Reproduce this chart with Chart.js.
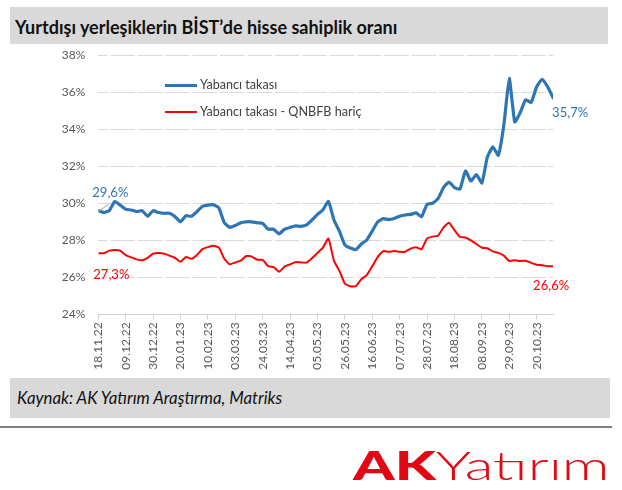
<!DOCTYPE html>
<html>
<head>
<meta charset="utf-8">
<script src="https://cdn.jsdelivr.net/npm/chart.js@4.4.1/dist/chart.umd.min.js"></script>
<style>
  html, body { margin:0; padding:0; background:#fff; width:622px; height:490px; overflow:hidden; font-family: Lato, "Open Sans", sans-serif; }
  .abs { position:absolute; }
  #titleBand { left:10px; top:7px; width:598px; height:37px; background:#d9d9d9; }
  #titleText { left:15px; top:16px; line-height:22px; font-size:18px; font-weight:bold; color:#111; white-space:nowrap; }
  #capBand { left:10px; top:378px; width:600px; height:40px; background:#d9d9d9; }
  #capText { left:17px; top:387px; line-height:22px; font-size:16.8px; font-style:italic; color:#111; white-space:nowrap; }
  #rule { left:0; top:426px; width:612px; height:2px; background:#7f7f7f; }
  #logo { left:353px; top:446px; font-size:39px; line-height:39px; color:#e30613; white-space:nowrap; transform-origin:left top; }
  #logo .ak { font-weight:900; }
  #logo .yat { font-weight:300; }
  #chart { left:0; top:0; }
  .legSw { position:absolute; width:32px; }
  .legTx { position:absolute; font-size:12.6px; line-height:16px; color:#404040; white-space:nowrap; }
</style>
</head>
<body>
<div id="titleBand" class="abs"></div>
<div id="titleText" class="abs">Yurtdışı yerleşiklerin BİST’de hisse sahiplik oranı</div>
<div id="capBand" class="abs"></div>
<div id="capText" class="abs">Kaynak: AK Yatırım Araştırma, Matriks</div>
<div id="rule" class="abs"></div>
<div id="logo" class="abs"><span class="ak">AK</span><span class="yat">Yatırım</span></div>
<canvas id="chart" class="abs" width="622" height="490"></canvas>
<div id="legend" class="abs" style="left:0;top:0;">
  <div class="legSw" style="left:165px;top:83.5px;height:3px;background:#2e75b6;"></div>
  <div class="legTx" style="left:200px;top:77px;">Yabancı takası</div>
  <div class="legSw" style="left:165px;top:111px;height:2px;background:#ff0000;"></div>
  <div class="legTx" style="left:200px;top:104px;">Yabancı takası - QNBFB hariç</div>
</div>
<script>
// ---- data ----
const tickLabels = ['18.11.22','09.12.22','30.12.22','20.01.23','10.02.23','03.03.23','24.03.23','14.04.23',
  '05.05.23','26.05.23','16.06.23','07.07.23','28.07.23','18.08.23','08.09.23','29.09.23','20.10.23'];
const pointsPerTick = 5; // samples between two dated ticks
const seriesNames = ['Yabancı takası', 'Yabancı takası - QNBFB hariç'];
const yabanciTakasi = [
  29.6, 29.5, 29.6, 30.1, 29.9, 29.68, 29.64, 29.55, 29.6, 29.3,
  29.6, 29.5, 29.46, 29.46, 29.28, 29.0, 29.33, 29.3, 29.55, 29.83,
  29.9, 29.92, 29.75, 28.95, 28.7, 28.8, 28.95, 29.0, 29.0, 28.95,
  28.92, 28.6, 28.6, 28.35, 28.6, 28.7, 28.78, 28.75, 28.83, 29.1,
  29.4, 29.65, 30.1, 29.1, 28.5, 27.75, 27.58, 27.5, 27.8, 28.02,
  28.5, 29.0, 29.17, 29.12, 29.18, 29.3, 29.37, 29.4, 29.48, 29.28,
  29.95, 30.0, 30.25, 30.85, 31.15, 30.85, 30.77, 31.75, 31.2, 31.55,
  31.1, 32.5, 33.05, 32.6, 34.2, 36.75, 34.4, 34.9, 35.6, 35.45,
  36.3, 36.7, 36.3, 35.7
];
const qnbfbHaric = [
  27.3, 27.3, 27.44, 27.47, 27.44, 27.2, 27.08, 26.97, 26.92, 27.05,
  27.28, 27.32, 27.28, 27.17, 27.05, 26.84, 27.1, 27.0, 27.21, 27.52,
  27.63, 27.7, 27.6, 27.0, 26.7, 26.8, 26.9, 27.15, 27.12, 26.95,
  26.94, 26.6, 26.55, 26.3, 26.58, 26.7, 26.82, 26.8, 26.8, 27.03,
  27.32, 27.6, 28.1, 26.9, 26.35, 25.65, 25.52, 25.52, 25.9, 26.12,
  26.6, 27.1, 27.42, 27.38, 27.42, 27.38, 27.38, 27.55, 27.63, 27.52,
  28.1, 28.2, 28.25, 28.7, 28.95, 28.55, 28.18, 28.15, 28.0, 27.8,
  27.6, 27.57, 27.4, 27.32, 27.17, 26.88, 26.92, 26.88, 26.9, 26.78,
  26.68, 26.65, 26.6, 26.6
];
const yMin = 24, yMax = 38, yStep = 2;

// ---- styling ----
const BLUE = '#2e75b6', RED = '#ff0000';
const fmt = v => v.toFixed(1).replace('.', ',') + '%';

const valueLabels = {
  id: 'valueLabels',
  afterDatasetsDraw(chart) {
    const { ctx, scales: { x, y } } = chart;
    const last = yabanciTakasi.length - 1;
    ctx.save();
    ctx.font = '13px Lato, sans-serif';
    ctx.textAlign = 'center';
    ctx.textBaseline = 'middle';
    const bx0 = x.getPixelForValue(0), by0 = y.getPixelForValue(yabanciTakasi[0]);
    ctx.strokeStyle = '#a6a6a6'; ctx.lineWidth = 1;
    ctx.beginPath(); ctx.moveTo(bx0, by0 + 1); ctx.lineTo(bx0 + 12, by0 - 8); ctx.stroke();
    ctx.fillStyle = BLUE;
    ctx.fillText(fmt(yabanciTakasi[0]), bx0 + 12, by0 - 18);
    const bxL = x.getPixelForValue(last), byL = y.getPixelForValue(yabanciTakasi[last]);
    ctx.fillText(fmt(yabanciTakasi[last]), bxL + 17, byL + 15);
    ctx.fillStyle = RED;
    const rx0 = x.getPixelForValue(0), ry0 = y.getPixelForValue(qnbfbHaric[0]);
    ctx.fillText(fmt(qnbfbHaric[0]), rx0 + 13, ry0 + 22);
    const rxL = x.getPixelForValue(last), ryL = y.getPixelForValue(qnbfbHaric[last]);
    ctx.fillText(fmt(qnbfbHaric[last]), rxL - 2, ryL + 20);
    ctx.restore();
  }
};

const AX_Y_W = 60, AX_X_H = 60;
new Chart(document.getElementById('chart'), {
  type: 'line',
  data: {
    datasets: [
      { label: seriesNames[0], data: yabanciTakasi.map((v, i) => ({ x: i, y: v })),
        borderColor: BLUE, borderWidth: 3.2, pointRadius: 0, tension: 0.15, borderJoinStyle: 'round', borderCapStyle: 'round' },
      { label: seriesNames[1], data: qnbfbHaric.map((v, i) => ({ x: i, y: v })),
        borderColor: RED, borderWidth: 2, pointRadius: 0, tension: 0.15, borderJoinStyle: 'round' }
    ]
  },
  options: {
    responsive: false,
    animation: false,
    devicePixelRatio: 1,
    layout: { padding: { left: 98.3 - AX_Y_W, top: 55.3, right: 622 - 553.1, bottom: 490 - 314.3 - AX_X_H } },
    plugins: { legend: { display: false }, tooltip: { enabled: false } },
    scales: {
      x: {
        type: 'linear',
        min: 0, max: yabanciTakasi.length - 1,
        afterBuildTicks: s => { s.ticks = tickLabels.map((t, k) => ({ value: k * pointsPerTick })); },
        afterFit: s => { s.height = AX_X_H; },
        ticks: {
          autoSkip: false, minRotation: 90, maxRotation: 90, padding: 3,
          font: { family: 'Lato, sans-serif', size: 12 }, color: '#595959',
          callback: v => tickLabels[Math.round(v / pointsPerTick)] ?? ''
        },
        grid: { drawOnChartArea: false, drawTicks: true, tickLength: 5, color: '#d0d0d0' },
        border: { display: true, color: '#d0d0d0', width: 1 }
      },
      y: {
        min: yMin, max: yMax,
        afterFit: s => { s.width = AX_Y_W; },
        ticks: { stepSize: yStep, padding: 13, font: { family: 'Lato, sans-serif', size: 12 }, color: '#595959',
          callback: v => v + '%' },
        grid: { color: '#d9d9d9', lineWidth: 1, drawTicks: false },
        border: { display: false, dash: [24.4, 3], dashOffset: 15 }
      }
    }
  },
  plugins: [valueLabels]
});

const logo = document.getElementById('logo');
logo.style.transform = 'scaleX(' + (257 / logo.offsetWidth) + ')';
</script>
</body>
</html>
